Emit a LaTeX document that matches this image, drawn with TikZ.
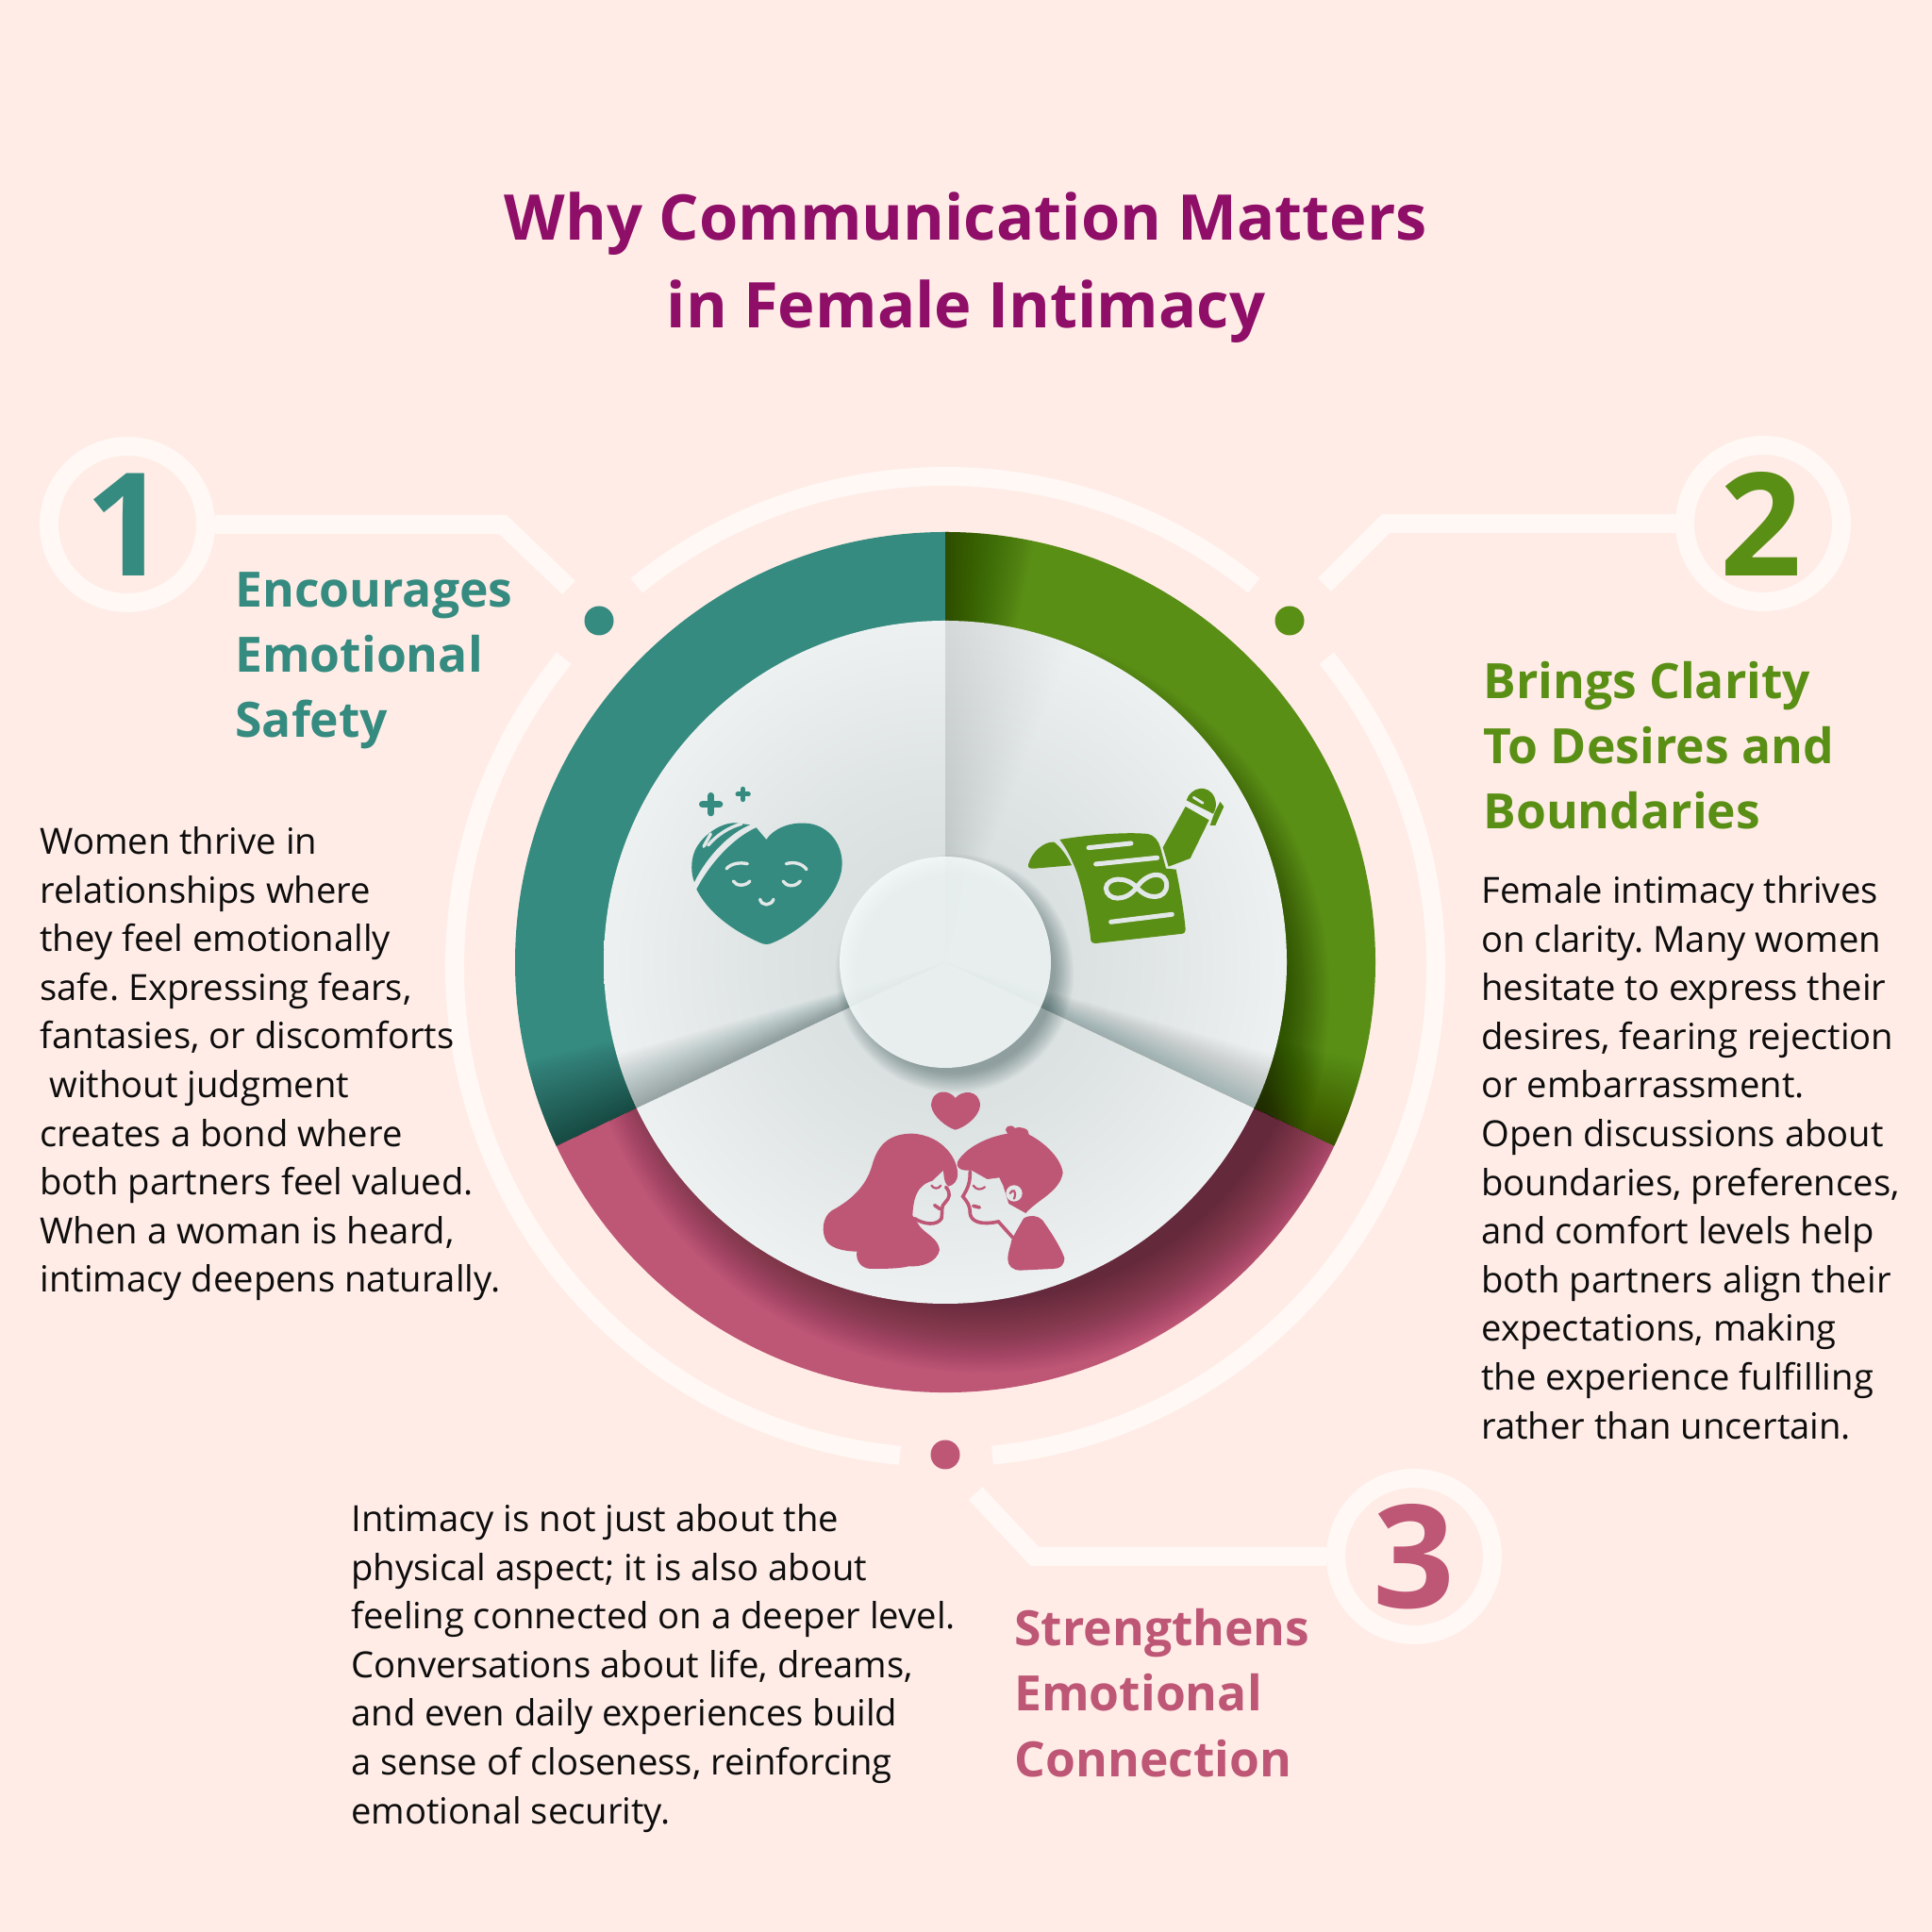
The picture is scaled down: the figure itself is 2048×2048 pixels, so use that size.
\documentclass[tikz,border=0pt]{standalone}
\usepackage{fontspec}
\setmainfont{Open Sans}
\usetikzlibrary{
  calc,
  positioning
}
\frenchspacing
\definecolor{pagebg}{HTML}{FFECE6}
\definecolor{ringwhite}{HTML}{FFF8F5}
\definecolor{tealseg}{HTML}{358B80}
\definecolor{greenseg}{HTML}{5A8F16}
\definecolor{pinkseg}{HTML}{BE5676}
\definecolor{titlepurple}{HTML}{8E0E68}
\definecolor{foldgray}{HTML}{D3DBDB}
\definecolor{foldmid}{HTML}{DFE4E4}
\definecolor{foldpale}{HTML}{F0F3F3}
\definecolor{rimwhite}{HTML}{F9FAFA}
\definecolor{iconline}{HTML}{E2E7E7}
\pgfdeclareradialshading{foldshade}{\pgfpoint{0bp}{0bp}}{color(0bp)=(foldgray); color(14bp)=(foldmid); color(27bp)=(foldpale); color(35bp)=(rimwhite); color(50bp)=(rimwhite)}
\newcommand{\wedgepath}[3]{(wheel) -- ++(#1:#3) arc[start angle=#1, end angle=#2, radius=#3] -- cycle}
\tikzset{
  ringline/.style = {draw=ringwhite, line width=10pt},
  linkline/.style = {draw=ringwhite, line width=10pt},
  numring/.style = {shape=circle, draw=ringwhite, line width=10pt, minimum size=83pt,
    inner sep=0pt, font=\fontsize{76}{76}\selectfont\bfseries},
  dotmark/.style = {shape=circle, minimum size=15.5pt, inner sep=0pt},
  titletext/.style = {align=center, text=titlepurple, font=\fontsize{33.4}{46.5}\selectfont\bfseries},
  headtext/.style = {align=left, anchor=north west, inner sep=0pt, font=\fontsize{25.8}{34.6}\selectfont\bfseries},
  bodytext/.style = {align=left, anchor=north west, inner sep=0pt, text=black!95,
    font=\fontsize{19.1}{25.8}\selectfont},
  facestroke/.style = {draw=iconline, line width=1.7pt, line cap=round},
  iconstroke/.style = {line width=1.8pt, line cap=round}
}
\begin{document}
\begin{tikzpicture}[x=0.5pt, y=0.5pt]
  \useasboundingbox (0,0) rectangle (2048,2048);
  \fill[pagebg] (0,0) rectangle (2048,2048);
  \coordinate (wheel) at (1002,1028);
  \coordinate (ringmid) at (1002,1023);

  % outer thin ring
  \draw[ringline] (ringmid) ++(129:520) arc[start angle=129, end angle=51, radius=520];
  \draw[ringline] (ringmid) ++(39:520) arc[start angle=39, end angle=-84.5, radius=520];
  \draw[ringline] (ringmid) ++(141:520) arc[start angle=141, end angle=264.7, radius=520];

  % coloured segments
  \fill[tealseg] \wedgepath{90}{205.3}{456};
  \fill[greenseg] \wedgepath{90}{-25.3}{456};
  \fill[pinkseg] \wedgepath{205.3}{334.7}{456};
  \foreach \i in {1,...,30} {
    \fill[black, opacity=.016] \wedgepath{90}{90-\i*.4}{456};
    \fill[black, opacity=.013] \wedgepath{-25.3}{-25.3+\i*.4}{456};
    \fill[black, opacity=.014] \wedgepath{205.3}{205.3-\i*.4}{456};
  }
  \begin{scope}
    \clip \wedgepath{205.3}{334.7}{456};
    \foreach \i in {1,...,36} {
      \fill[black!80!pinkseg, opacity=.02] ($(wheel)+(40,-6)$) circle[radius=350+\i*2.2];
    }
  \end{scope}
  \begin{scope}
    \clip \wedgepath{90}{-25.3}{456};
    \foreach \i in {1,...,24} {
      \fill[black, opacity=.018] ($(wheel)+(15,-35)$) circle[radius=340+\i*2.2];
    }
  \end{scope}

  % folded inner disc
  \begin{scope}
    \clip \wedgepath{90}{205.3}{362};
    \shade[shading=foldshade] (wheel) circle[radius=362];
    \foreach \i in {1,...,24} {
      \fill[black!70!teal, opacity=.014] \wedgepath{205.3}{205.3-\i*.4}{362};
    }
  \end{scope}
  \begin{scope}
    \clip \wedgepath{90}{-25.3}{362};
    \shade[shading=foldshade] (wheel) circle[radius=362];
    \foreach \i in {1,...,24} {
      \fill[black!70!teal, opacity=.005] \wedgepath{90}{90-\i*.9}{362};
      \fill[black!70!teal, opacity=.012] \wedgepath{-25.3}{-25.3+\i*.4}{362};
    }
  \end{scope}
  \begin{scope}
    \clip \wedgepath{205.3}{334.7}{362};
    \shade[shading=foldshade] (wheel) circle[radius=362];
  \end{scope}

  % hub
  \foreach \i in {1,...,16} {
    \fill[black!70!teal, opacity=.022] ($(wheel)+(10,-12)$) circle[radius=104+\i*1.4];
  }
  \fill[white!96!teal, opacity=.88] (wheel) circle[radius=112];

  % heart icon
  \begin{scope}[shift={(720,1228)}, scale=.3333, yscale=-1]
    \fill[tealseg] (277,210) .. controls (300,175) and (350,155) .. (400,158)
      .. controls (470,160) and (520,220) .. (518,290)
      .. controls (515,380) and (410,490) .. (300,537)
      .. controls (285,545) and (270,545) .. (255,537)
      .. controls (170,500) and (90,440) .. (55,368)
      .. controls (95,290) and (170,205) .. (245,172) -- cycle;
    \fill[tealseg] (48,345) .. controls (38,320) and (35,280) .. (50,245)
      .. controls (70,200) and (130,155) .. (180,157) -- (225,163)
      .. controls (160,190) and (90,260) .. cycle;
    \draw[facestroke] (78,232) -- (100,192);
    \draw[facestroke] (92,228) .. controls (120,195) and (160,170) .. (198,160);
    \draw[facestroke] (150,303) .. controls (165,285) and (195,282) .. (217,287);
    \draw[facestroke] (340,287) .. controls (365,280) and (390,285) .. (405,305);
    \draw[facestroke] (172,342) .. controls (180,358) and (210,360) .. (225,342);
    \draw[facestroke] (330,342) .. controls (340,360) and (370,362) .. (385,342);
    \draw[facestroke] (257,400) .. controls (262,422) and (292,422) .. (300,400);
    \draw[tealseg, line width=3.7pt, line cap=round] (74,98) -- (128,98) (101,71) -- (101,125);
    \draw[tealseg, line width=2.5pt, line cap=round] (186,66) -- (220,66) (203,49) -- (203,83);
  \end{scope}

  % scroll and pen icon
  \begin{scope}[shift={(1080,1228)}, scale=.3333, yscale=-1]
    \fill[greenseg] (30,290) .. controls (40,250) and (80,215) .. (112,218)
      .. controls (135,235) and (155,265) .. (168,292) -- (50,302)
      .. controls (35,303) and (28,300) .. cycle;
    \fill[greenseg] (130,210) .. controls (220,195) and (340,185) .. (410,192)
      .. controls (430,195) and (445,215) .. (450,235) -- (468,302) -- (500,305)
      .. controls (515,380) and (525,440) .. (530,495)
      .. controls (530,505) and (525,510) .. (515,510) -- (245,540)
      .. controls (232,540) and (228,535) .. (228,520)
      .. controls (215,420) and (195,330) .. (170,280)
      .. controls (160,255) and (145,230) .. cycle;
    \draw[iconstroke, iconline, line width=2.5pt] (222,236) -- (357,222);
    \draw[iconstroke, iconline, line width=2.5pt] (245,288) -- (440,268);
    \draw[iconstroke, iconline, line width=2.5pt] (293,472) -- (487,448);
    \draw[iconstroke, iconline, line width=2.5pt] (375,362) .. controls (340,325) and (280,330) .. (277,365)
      .. controls (280,405) and (340,410) .. (375,362)
      .. controls (410,310) and (470,310) .. (470,355)
      .. controls (470,400) and (410,405) .. cycle;
    \fill[greenseg] (458,235) -- (530,105) -- (605,148) -- (545,270) -- (476,296) -- cycle;
    \fill[greenseg] (533,85) .. controls (545,45) and (600,30) .. (622,75)
      .. controls (630,95) and (628,112) .. (618,128) -- cycle;
    \fill[greenseg] (640,90) -- (652,105) -- (625,165) -- (608,165) -- (622,125) -- cycle;
    \draw[iconstroke, iconline, line width=1.4pt] (556,76) -- (585,94);
  \end{scope}

  % couple icon
  \begin{scope}[shift={(860,898)}, scale=.3333, yscale=-1]
    \fill[pinkseg] (458,42) .. controls (440,15) and (385,10) .. (381,65)
      .. controls (385,100) and (430,135) .. (458,143)
      .. controls (490,135) and (535,100) .. (537,65)
      .. controls (535,15) and (480,15) .. cycle;
    \fill[pinkseg] (465,290) .. controls (470,240) and (420,160) .. (320,155)
      .. controls (240,155) and (210,200) .. (195,250)
      .. controls (180,310) and (140,360) .. (65,400)
      .. controls (35,420) and (30,470) .. (50,500)
      .. controls (70,525) and (120,530) .. (145,530)
      .. controls (140,560) and (160,585) .. (190,585)
      .. controls (230,585) and (280,585) .. (310,577)
      .. controls (350,580) and (400,565) .. (408,525)
      .. controls (405,490) and (365,475) .. (345,450) -- (322,415)
      .. controls (325,360) and (335,320) .. (385,305) -- (420,272)
      .. controls (422,300) and (425,315) .. (436,323)
      .. controls (455,320) and (465,300) .. cycle;
    \draw[pinkseg, iconstroke] (428,325) .. controls (445,345) and (440,360) .. (425,375)
      .. controls (412,385) and (418,400) .. (414,425)
      .. controls (400,448) and (360,445) .. (328,425);
    \draw[pinkseg, iconstroke] (392,383) -- (410,395);
    \draw[pinkseg, iconstroke, line width=1.1pt] (382,320) .. controls (390,332) and (405,332) .. (412,320);
    \fill[pinkseg] (465,245) .. controls (490,200) and (560,165) .. (625,155)
      .. controls (605,135) and (635,120) .. (648,138)
      .. controls (665,130) and (695,140) .. (692,158)
      .. controls (745,185) and (795,235) .. (800,280)
      .. controls (790,340) and (720,365) .. (682,408)
      -- (628,378) -- (610,320) -- (598,295) -- (560,300) -- (510,272) -- (490,272)
      .. controls (470,270) and (460,260) .. cycle;
    \fill[iconline] (645,345) circle[radius=26];
    \draw[pinkseg, iconstroke, line width=1.1pt] (632,345) .. controls (640,330) and (655,335) .. (645,362);
    \draw[pinkseg, iconstroke] (505,275) .. controls (505,310) and (500,325) .. (482,355)
      .. controls (495,372) and (505,380) .. (505,410)
      .. controls (510,440) and (550,445) .. (595,435) -- (640,485);
    \draw[pinkseg, iconstroke] (515,385) -- (535,390);
    \draw[pinkseg, iconstroke, line width=1.1pt] (515,320) .. controls (525,335) and (540,335) .. (552,325);
    \fill[pinkseg] (638,490) -- (675,425) .. controls (695,412) and (720,415) .. (735,430)
      .. controls (760,465) and (790,510) .. (805,550)
      .. controls (805,575) and (790,585) .. (770,585)
      -- (665,590) .. controls (640,590) and (625,575) .. (625,555)
      .. controls (625,530) and (635,510) .. cycle;
  \end{scope}

  % numbered rings and links
  \node[numring, text=tealseg] (numA) at (135,1492) {\hspace*{-1pt}1};
  \node[numring, text=greenseg] (numB) at (1869,1493) {\hspace*{-2pt}2};
  \node[numring, text=pinkseg] (numC) at (1499,398) {3};
  \coordinate (bendA) at (533,1492);
  \coordinate (stopA) at (603,1425);
  \coordinate (bendB) at (1469,1493);
  \coordinate (stopB) at (1404,1428);
  \coordinate (bendC) at (1097,398);
  \coordinate (stopC) at (1034,465);
  \draw[linkline] (numA) -- (bendA) -- (stopA);
  \draw[linkline] (numB) -- (bendB) -- (stopB);
  \draw[linkline] (numC) -- (bendC) -- (stopC);
  \node[dotmark, fill=tealseg] (dotA) at (635,1390) {};
  \node[dotmark, fill=greenseg] (dotB) at (1367,1390) {};
  \node[dotmark, fill=pinkseg] (dotC) at (1002,506) {};

  % texts
  \node[titletext] (title) at (1024,1764) {Why Communication Matters\\in Female Intimacy};
  \node[headtext, text=tealseg] (headA) at (249,1442) {Encourages\\Emotional\\Safety};
  \node[headtext, text=greenseg] (headB) at (1572,1347) {Brings Clarity\\To Desires and\\Boundaries};
  \node[headtext, text=pinkseg] (headC) at (1075,343) {Strengthens\\Emotional\\Connection};
  \node[bodytext] (bodyA) at (42,1172) {Women thrive in\\relationships where\\they feel emotionally\\safe. Expressing fears,\\fantasies, or discomforts\\\hspace*{5pt}without judgment\\creates a bond where\\both partners feel valued.\\When a woman is heard,\\intimacy deepens naturally.};
  \node[bodytext] (bodyB) at (1570,1120) {Female intimacy thrives\\on clarity. Many women\\hesitate to express their\\desires, fearing rejection\\or embarrassment.\\Open discussions about\\boundaries, preferences,\\and comfort levels help\\both partners align their\\expectations, making\\the experience fulfilling\\rather than uncertain.};
  \node[bodytext] (bodyC) at (372,454) {Intimacy is not just about the\\physical aspect; it is also about\\feeling connected on a deeper level.\\Conversations about life, dreams,\\and even daily experiences build\\a sense of closeness, reinforcing\\emotional security.};
\end{tikzpicture}
\end{document}
